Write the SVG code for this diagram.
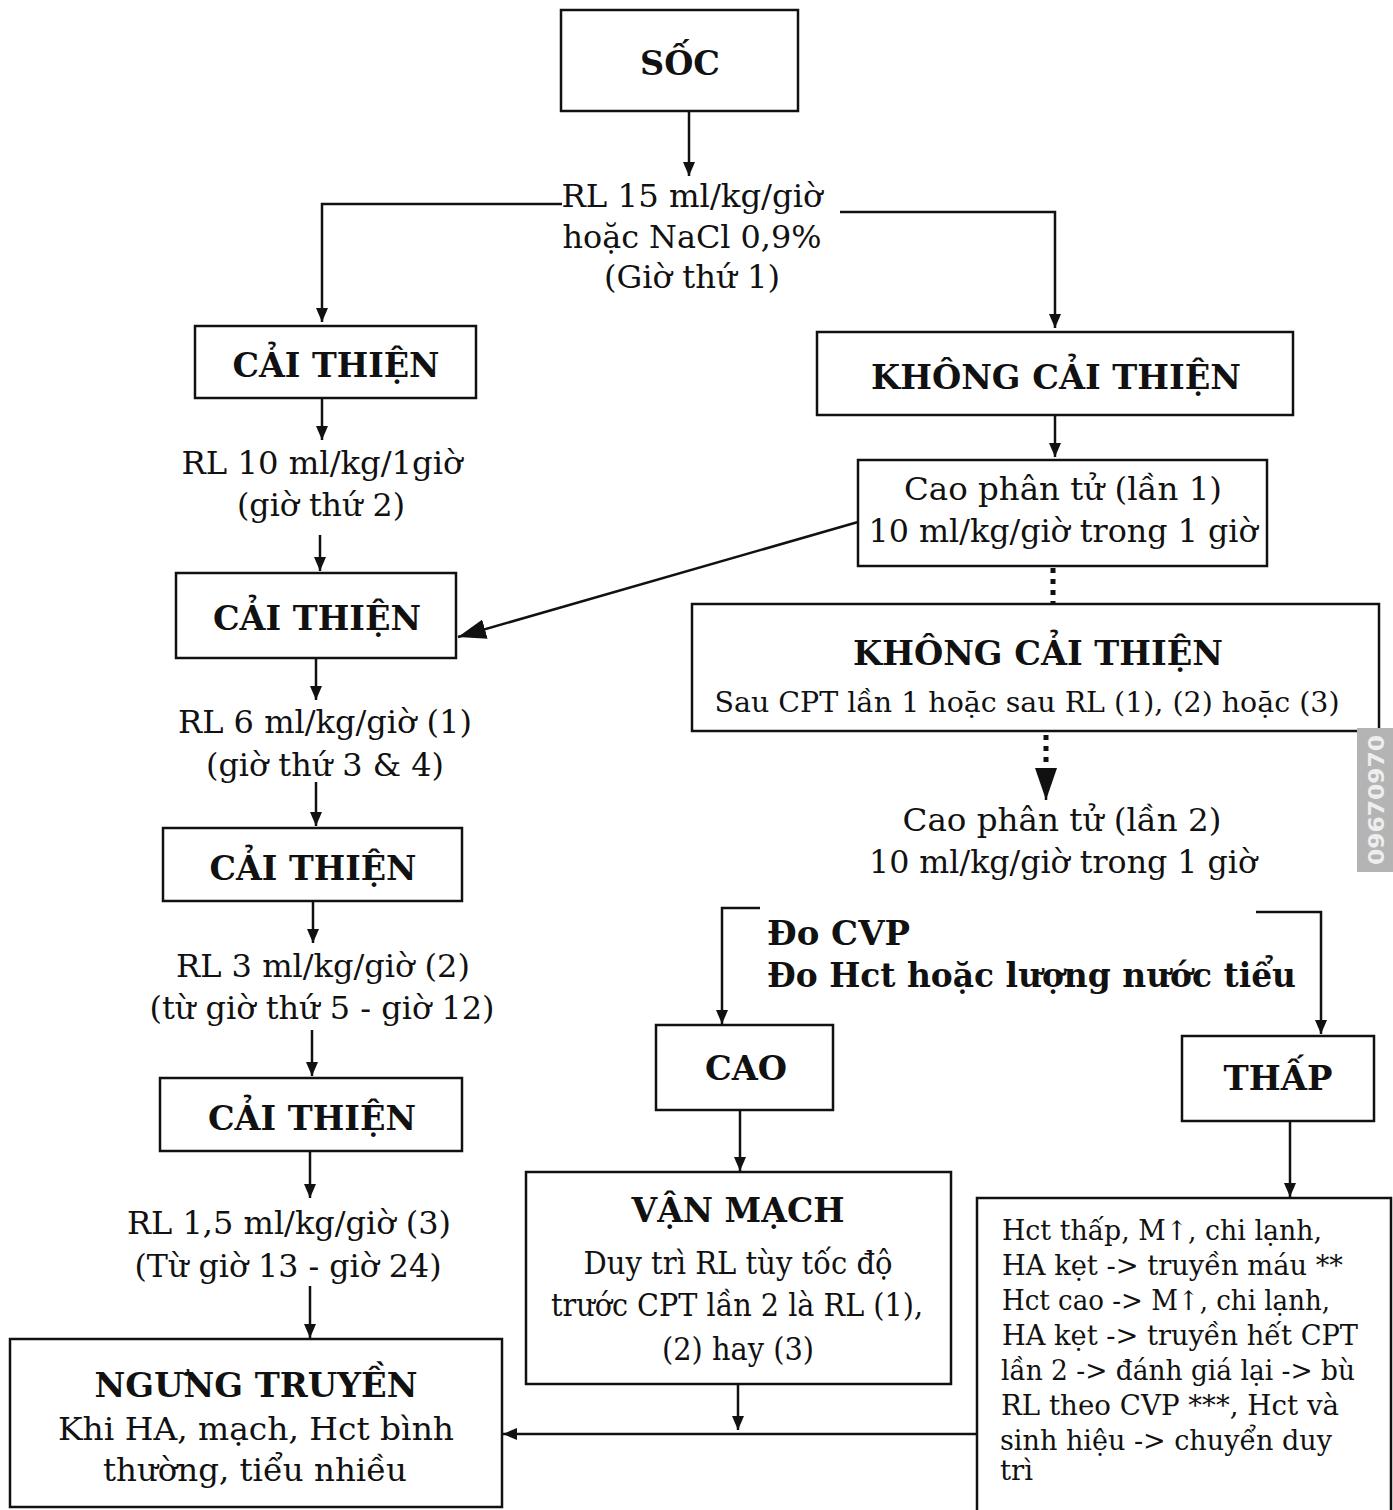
<svg xmlns="http://www.w3.org/2000/svg" width="1393" height="1510" viewBox="0 0 1393 1510">
<style>
.box{fill:#fff;stroke:#111;stroke-width:2.5}
.ln{stroke:#111;stroke-width:2.5;fill:none}
.dot{stroke:#111;stroke-width:5;fill:none;stroke-dasharray:5 6}
text{font-family:"DejaVu Serif","Liberation Serif",serif;fill:#111;font-size:31px}
.b{font-weight:bold;font-size:34px}
.s{font-size:27px}
.c{text-anchor:middle}
</style>
<defs>
<marker id="a" markerUnits="userSpaceOnUse" markerWidth="14" markerHeight="12" refX="14" refY="6" orient="auto"><path d="M0,0 L14,6 L0,12 z" fill="#111"/></marker>
<marker id="big" markerUnits="userSpaceOnUse" markerWidth="28" markerHeight="20" refX="28" refY="10" orient="auto"><path d="M0,0 L28,10 L0,20 z" fill="#111"/></marker>
<marker id="dbig" markerUnits="userSpaceOnUse" markerWidth="32" markerHeight="22" refX="32" refY="11" orient="auto"><path d="M0,0 L32,11 L0,22 z" fill="#111"/></marker>
</defs>
<rect width="1393" height="1510" fill="#fff"/>

<g id="connectors">
<path class="ln" d="M689,111 V176" marker-end="url(#a)"/>
<path class="ln" d="M562,204 H322 V322" marker-end="url(#a)"/>
<path class="ln" d="M840,212 H1055 V328" marker-end="url(#a)"/>
<path class="ln" d="M322,398 V440" marker-end="url(#a)"/>
<path class="ln" d="M1055,415 V457" marker-end="url(#a)"/>
<path class="ln" d="M320,535 V571" marker-end="url(#a)"/>
<path class="ln" d="M858,522 L458,637" marker-end="url(#big)"/>
<path class="dot" d="M1053,568 V604"/>
<path class="dot" d="M1046,735 V770"/>
<path class="ln" d="M1046,768 V800" marker-end="url(#dbig)"/>
<path class="ln" d="M316,658 V700" marker-end="url(#a)"/>
<path class="ln" d="M316,782 V826" marker-end="url(#a)"/>
<path class="ln" d="M313,901 V943" marker-end="url(#a)"/>
<path class="ln" d="M312,1030 V1076" marker-end="url(#a)"/>
<path class="ln" d="M310,1151 V1198" marker-end="url(#a)"/>
<path class="ln" d="M310,1286 V1338" marker-end="url(#a)"/>
<path class="ln" d="M760,908 H722 V1024" marker-end="url(#a)"/>
<path class="ln" d="M1256,912 H1321 V1034" marker-end="url(#a)"/>
<path class="ln" d="M740,1110 V1171" marker-end="url(#a)"/>
<path class="ln" d="M1290,1121 V1197" marker-end="url(#a)"/>
<path class="ln" d="M738,1384 V1430" marker-end="url(#a)"/>
<path class="ln" d="M977,1434 H503" marker-end="url(#a)"/>
</g>

<g id="soc">
<rect class="box" x="561" y="10" width="237" height="101"/>
<text class="b c" x="680" y="75" textLength="80" lengthAdjust="spacingAndGlyphs">SỐC</text>
</g>

<g id="rl15">
<text class="c" x="692" y="207" textLength="261" lengthAdjust="spacingAndGlyphs">RL 15 ml/kg/giờ</text>
<text class="c" x="692" y="248" textLength="259" lengthAdjust="spacingAndGlyphs">hoặc NaCl 0,9%</text>
<text class="c" x="692" y="288" textLength="176" lengthAdjust="spacingAndGlyphs">(Giờ thứ 1)</text>
</g>

<g id="caithien1">
<rect class="box" x="195" y="326" width="281" height="72"/>
<text class="b c" x="336" y="377" textLength="207" lengthAdjust="spacingAndGlyphs">CẢI THIỆN</text>
</g>

<g id="khongcaithien1">
<rect class="box" x="817" y="332" width="476" height="83"/>
<text class="b c" x="1056" y="389" textLength="370" lengthAdjust="spacingAndGlyphs">KHÔNG CẢI THIỆN</text>
</g>

<g id="rl10">
<text class="c" x="322" y="474" textLength="281" lengthAdjust="spacingAndGlyphs">RL 10 ml/kg/1giờ</text>
<text class="c" x="321" y="516" textLength="168" lengthAdjust="spacingAndGlyphs">(giờ thứ 2)</text>
</g>

<g id="cpt1">
<rect class="box" x="858" y="460" width="409" height="106"/>
<text class="c" x="1063" y="500" textLength="318" lengthAdjust="spacingAndGlyphs">Cao phân tử (lần 1)</text>
<text class="c" x="1063" y="542" textLength="389" lengthAdjust="spacingAndGlyphs">10 ml/kg/giờ trong 1 giờ</text>
</g>

<g id="caithien2">
<rect class="box" x="176" y="573" width="280" height="85"/>
<text class="b c" x="317" y="630" textLength="208" lengthAdjust="spacingAndGlyphs">CẢI THIỆN</text>
</g>

<g id="khongcaithien2">
<rect class="box" x="692" y="604" width="687" height="127"/>
<text class="b c" x="1038" y="665" textLength="370" lengthAdjust="spacingAndGlyphs">KHÔNG CẢI THIỆN</text>
<text class="s c" x="1027" y="712" textLength="625" lengthAdjust="spacingAndGlyphs">Sau CPT lần 1 hoặc sau RL (1), (2) hoặc (3)</text>
</g>

<g id="cpt2">
<text class="c" x="1062" y="831" textLength="319" lengthAdjust="spacingAndGlyphs">Cao phân tử (lần 2)</text>
<text class="c" x="1063" y="873" textLength="388" lengthAdjust="spacingAndGlyphs">10 ml/kg/giờ trong 1 giờ</text>
</g>

<g id="rl6">
<text class="c" x="325" y="733" textLength="294" lengthAdjust="spacingAndGlyphs">RL 6 ml/kg/giờ (1)</text>
<text class="c" x="325" y="776" textLength="238" lengthAdjust="spacingAndGlyphs">(giờ thứ 3 &amp; 4)</text>
</g>

<g id="caithien3">
<rect class="box" x="163" y="828" width="299" height="73"/>
<text class="b c" x="313" y="880" textLength="207" lengthAdjust="spacingAndGlyphs">CẢI THIỆN</text>
</g>

<g id="rl3">
<text class="c" x="323" y="977" textLength="294" lengthAdjust="spacingAndGlyphs">RL 3 ml/kg/giờ (2)</text>
<text class="c" x="322" y="1019" textLength="345" lengthAdjust="spacingAndGlyphs">(từ giờ thứ 5 - giờ 12)</text>
</g>

<g id="caithien4">
<rect class="box" x="160" y="1078" width="302" height="73"/>
<text class="b c" x="312" y="1130" textLength="208" lengthAdjust="spacingAndGlyphs">CẢI THIỆN</text>
</g>

<g id="rl15b">
<text class="c" x="289" y="1234" textLength="324" lengthAdjust="spacingAndGlyphs">RL 1,5 ml/kg/giờ (3)</text>
<text class="c" x="288" y="1277" textLength="307" lengthAdjust="spacingAndGlyphs">(Từ giờ 13 - giờ 24)</text>
</g>

<g id="ngungtruyen">
<rect class="box" x="10" y="1339" width="492" height="168"/>
<text class="b c" x="256" y="1397" textLength="323" lengthAdjust="spacingAndGlyphs">NGƯNG TRUYỀN</text>
<text class="c" x="256" y="1440" textLength="396" lengthAdjust="spacingAndGlyphs">Khi HA, mạch, Hct bình</text>
<text class="c" x="255" y="1481" textLength="304" lengthAdjust="spacingAndGlyphs">thường, tiểu nhiều</text>
</g>

<g id="docvp">
<text class="b" x="767" y="945" textLength="143" lengthAdjust="spacingAndGlyphs">Đo CVP</text>
<text class="b" x="767" y="987" textLength="529" lengthAdjust="spacingAndGlyphs">Đo Hct hoặc lượng nước tiểu</text>
</g>

<g id="cao">
<rect class="box" x="656" y="1025" width="177" height="85"/>
<text class="b c" x="746" y="1080" textLength="82" lengthAdjust="spacingAndGlyphs">CAO</text>
</g>

<g id="thap">
<rect class="box" x="1182" y="1036" width="192" height="85"/>
<text class="b c" x="1278" y="1090" textLength="109" lengthAdjust="spacingAndGlyphs">THẤP</text>
</g>

<g id="vanmach">
<rect class="box" x="526" y="1172" width="425" height="212"/>
<text class="b c" x="738" y="1222" textLength="213" lengthAdjust="spacingAndGlyphs">VẬN MẠCH</text>
<text class="c" x="738" y="1274" textLength="309" lengthAdjust="spacingAndGlyphs">Duy trì RL tùy tốc độ</text>
<text class="c" x="737" y="1316" textLength="372" lengthAdjust="spacingAndGlyphs">trước CPT lần 2 là RL (1),</text>
<text class="c" x="738" y="1360" textLength="152" lengthAdjust="spacingAndGlyphs">(2) hay (3)</text>
</g>

<g id="thap-detail">
<path class="box" d="M977,1512 V1198 H1391 V1512"/>
<text class="s" x="1002" y="1240" textLength="320" lengthAdjust="spacingAndGlyphs">Hct thấp, M↑, chi lạnh,</text>
<text class="s" x="1002" y="1275" textLength="341" lengthAdjust="spacingAndGlyphs">HA kẹt -&gt; truyền máu **</text>
<text class="s" x="1002" y="1310" textLength="328" lengthAdjust="spacingAndGlyphs">Hct cao -&gt; M↑, chi lạnh,</text>
<text class="s" x="1002" y="1345" textLength="356" lengthAdjust="spacingAndGlyphs">HA kẹt -&gt; truyền hết CPT</text>
<text class="s" x="1001" y="1380" textLength="354" lengthAdjust="spacingAndGlyphs">lần 2 -&gt; đánh giá lại -&gt; bù</text>
<text class="s" x="1001" y="1415" textLength="338" lengthAdjust="spacingAndGlyphs">RL theo CVP ***, Hct và</text>
<text class="s" x="1000" y="1450" textLength="332" lengthAdjust="spacingAndGlyphs">sinh hiệu -&gt; chuyển duy</text>
<text class="s" x="1000" y="1480" textLength="33" lengthAdjust="spacingAndGlyphs">trì</text>
</g>

<g id="watermark">
<rect x="1357" y="728" width="36" height="144" fill="#b4b4b4"/>
<text x="0" y="0" transform="translate(1384,800) rotate(-90)" text-anchor="middle" style="font-family:'DejaVu Sans',sans-serif;font-size:22px;font-weight:bold;fill:#eeeeee" textLength="130" lengthAdjust="spacingAndGlyphs">09670970</text>
</g>
</svg>
